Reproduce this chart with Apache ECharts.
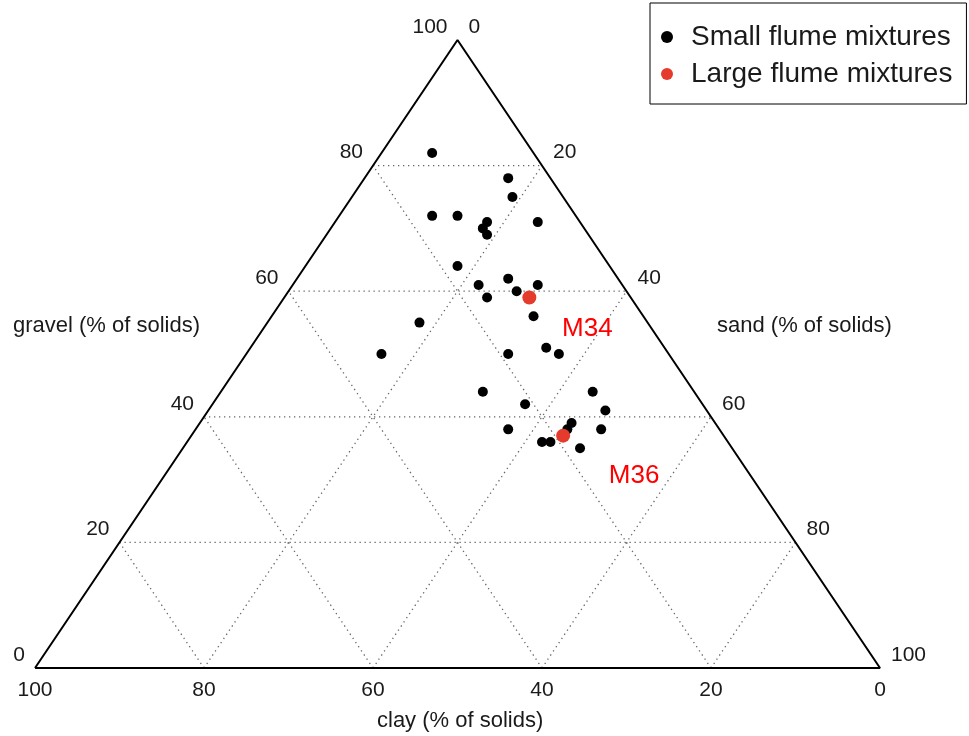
<!DOCTYPE html>
<html>
<head>
<meta charset="utf-8">
<script src="https://cdn.jsdelivr.net/npm/echarts@6/dist/echarts.min.js"></script>
<style>html,body{margin:0;padding:0;background:#fff}#c{width:969px;height:736px}</style>
</head>
<body>
<div id="c"></div>
<script>
// Ternary data: gravel / sand / clay (% of solids)
const smallGravel = [82,78,75,72,72,71,70,69,71,64,62,61,61,60,59,56,55,50,50,51,50,44,44,42,41,39,38,38,38,36,36,35];
const smallSand   = [6,17,19,11,14,18,18,19,24,18,25,22,29,27,24,31,18,16,31,35,37,31,44,37,47,44,44,48,37,42,43,47];
const largeGravel = [59,37];
const largeSand   = [29,44];
const largeNames  = ['M34','M36'];
const tickValues  = [0,20,40,60,80,100];
const gridValues  = [20,40,60,80];

// ternary (gravel, sand) -> cartesian data coordinates (clay = 100 - gravel - sand)
function tern(g, s) { return [s + g / 2, g]; }

const FONT = "'Liberation Sans', Arial, sans-serif";
const series = [];

// gridlines
function gridLine(a, b) {
  series.push({
    type: 'line', data: [a, b], symbol: 'none', silent: true, z: 1,
    lineStyle: { color: '#666', width: 1.3, type: [1.3, 3.7], opacity: 1 }
  });
}
gridValues.forEach(v => {
  gridLine(tern(v, 0), tern(v, 100 - v));           // constant gravel
  gridLine(tern(0, 100 - v), tern(100 - v, 0));     // constant clay
  gridLine(tern(0, v), tern(100 - v, v));           // constant sand
});

// triangle frame
series.push({
  type: 'line', silent: true, symbol: 'none', z: 2,
  data: [tern(0, 0), tern(0, 100), tern(100, 0), tern(0, 0)],
  lineStyle: { color: '#000', width: 2, opacity: 1 }
});

// tick labels
const tickText = { color: '#1a1a1a', fontSize: 21, fontFamily: FONT, opacity: 1 };
function tickSeries(points, pos, dist, offset) {
  series.push({
    type: 'scatter', silent: true, symbolSize: 0, itemStyle: { opacity: 1 },
    data: tickValues.map((v, i) => ({ value: points[i], name: String(v) })),
    label: Object.assign({ show: true, position: pos, distance: dist, offset: offset, formatter: p => p.name }, tickText)
  });
}
tickSeries(tickValues.map(v => tern(v, 0)), 'left', 10, [0, -13]);
tickSeries(tickValues.map(v => tern(100 - v, v)), 'right', 11, [0, -13]);
tickSeries(tickValues.map(v => tern(0, 100 - v)), 'bottom', 12, [0, 0]);

// data series
series.push({
  name: 'Small flume mixtures', type: 'scatter', symbol: 'circle', symbolSize: 10, z: 5,
  itemStyle: { color: '#000', opacity: 1 },
  data: smallGravel.map((g, i) => tern(g, smallSand[i]))
});
const labelOffsets = [[58, 31], [71, 40]];
series.push({
  name: 'Large flume mixtures', type: 'scatter', symbol: 'circle', symbolSize: 14, z: 6,
  itemStyle: { color: '#e53b2c', opacity: 1 },
  data: largeGravel.map((g, i) => ({
    value: tern(g, largeSand[i]), name: largeNames[i],
    label: { show: true, position: 'inside', offset: labelOffsets[i], formatter: p => p.name,
             color: '#ff0000', fontSize: 26, fontFamily: FONT }
  }))
});

const chart = echarts.init(document.getElementById('c'), null, { renderer: 'canvas' });
chart.setOption({
  animation: false,
  backgroundColor: '#fff',
  grid: { left: 35, right: 89, top: 40, bottom: 68 },
  xAxis: { type: 'value', min: 0, max: 100, show: false },
  yAxis: { type: 'value', min: 0, max: 100, show: false },
  legend: {
    data: ['Small flume mixtures', 'Large flume mixtures'],
    orient: 'vertical', left: 650, top: 3,
    padding: [20, 14, 16, 11], itemGap: 9,
    itemWidth: 24, itemHeight: 12, icon: 'circle',
    borderColor: '#000', borderWidth: 1, borderRadius: 0,
    textStyle: { fontSize: 28, color: '#1a1a1a', fontFamily: FONT, padding: [0, 0, 0, 7] }
  },
  graphic: [
    { type: 'text', left: 13, top: 315, style: { text: 'gravel (% of solids)', fontSize: 22, fill: '#1a1a1a', fontFamily: FONT } },
    { type: 'text', left: 717, top: 315, style: { text: 'sand (% of solids)', fontSize: 22, fill: '#1a1a1a', fontFamily: FONT } },
    { type: 'text', left: 377, top: 710, style: { text: 'clay (% of solids)', fontSize: 22, fill: '#1a1a1a', fontFamily: FONT } }
  ],
  series: series
});
</script>
</body>
</html>
